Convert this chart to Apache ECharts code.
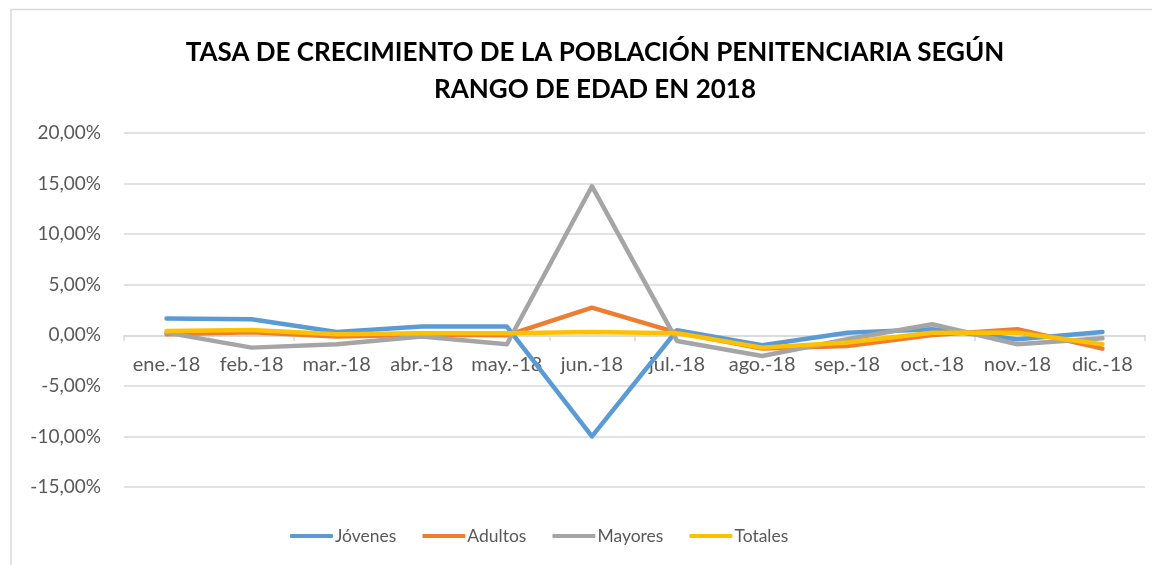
<!DOCTYPE html>
<html><head><meta charset="utf-8">
<script src="https://cdn.jsdelivr.net/npm/echarts@6/dist/echarts.min.js"></script>
<style>html,body{margin:0;padding:0;background:#fff}#c{width:1152px;height:565px}</style>
</head><body><div id="c"></div>
<script>
const categories = ["ene.-18","feb.-18","mar.-18","abr.-18","may.-18","jun.-18","jul.-18","ago.-18","sep.-18","oct.-18","nov.-18","dic.-18"];
const jovenes = [1.65, 1.58, 0.33, 0.86, 0.86, -10.0, 0.50, -0.99, 0.26, 0.59, -0.39, 0.33];
const adultos = [0.10, 0.30, -0.13, 0.05, 0.00, 2.73, 0.26, -1.30, -1.05, 0.03, 0.59, -1.32];
const mayores = [0.26, -1.22, -0.89, -0.13, -0.89, 14.74, -0.56, -2.04, -0.40, 1.09, -0.89, -0.30];
const totales = [0.43, 0.53, 0.10, 0.20, 0.20, 0.33, 0.20, -1.22, -0.72, 0.26, 0.26, -0.89];
const yTicks = {min: -15, max: 20, interval: 5};

const font = 'Lato, "Open Sans", sans-serif';
const gridTop = 133, gridBottom = 78, H = 565;
const plotH = H - gridTop - gridBottom;
const zeroOffset = -plotH * (0 - yTicks.min) / (yTicks.max - yTicks.min);

const mk = (name, data, color) => ({
  name, type: 'line', data, symbol: 'none', smooth: false,
  lineStyle: {width: 4.5, color, cap: 'round', join: 'round'},
  itemStyle: {color}
});
const chart = echarts.init(document.getElementById('c'), null, {renderer: 'canvas'});
chart.setOption({
  animation: false,
  backgroundColor: '#fff',
  title: {
    text: 'TASA DE CRECIMIENTO DE LA POBLACIÓN PENITENCIARIA SEGÚN\nRANGO DE EDAD EN 2018',
    left: 590, top: 29, textAlign: 'center',
    textStyle: {fontFamily: font, fontWeight: 'bold', fontSize: 26, color: '#000', lineHeight: 37}
  },
  graphic: [
    {type: 'polyline', shape: {points: [[11, 565], [11, 9.5], [1152, 9.5]]}, style: {stroke: '#d9d9d9', lineWidth: 1.5, fill: null}, silent: true}
  ],
  legend: {
    bottom: 15, left: 285,
    itemWidth: 43, itemHeight: 4, itemGap: 26,
    icon: 'roundRect',
    textStyle: {fontFamily: font, fontSize: 17.5, color: '#595959', padding: [0, 0, 0, -3]},
    data: ['Jóvenes','Adultos','Mayores','Totales']
  },
  grid: {left: 124, right: 7, top: gridTop, bottom: gridBottom, containLabel: false},
  xAxis: {
    type: 'category', data: categories, boundaryGap: true,
    position: 'bottom', offset: zeroOffset,
    axisLine: {onZero: false, lineStyle: {color: '#d9d9d9', width: 1.5}},
    axisTick: {show: true, length: 6, lineStyle: {color: '#d9d9d9', width: 1.5}},
    axisLabel: {fontFamily: font, fontSize: 20, color: '#595959', margin: 19, interval: 0}
  },
  yAxis: {
    type: 'value', min: yTicks.min, max: yTicks.max, interval: yTicks.interval,
    axisLine: {show: false}, axisTick: {show: false},
    splitLine: {lineStyle: {color: '#d9d9d9', width: 1.5}},
    axisLabel: {fontFamily: font, fontSize: 19, color: '#595959', margin: 23,
      formatter: v => v.toFixed(2).replace('.', ',') + '%'}
  },
  series: [
    mk('Jóvenes', jovenes, '#5B9BD5'),
    mk('Adultos', adultos, '#ED7D31'),
    mk('Mayores', mayores, '#A5A5A5'),
    mk('Totales', totales, '#FFC000')
  ]
});
</script></body></html>
